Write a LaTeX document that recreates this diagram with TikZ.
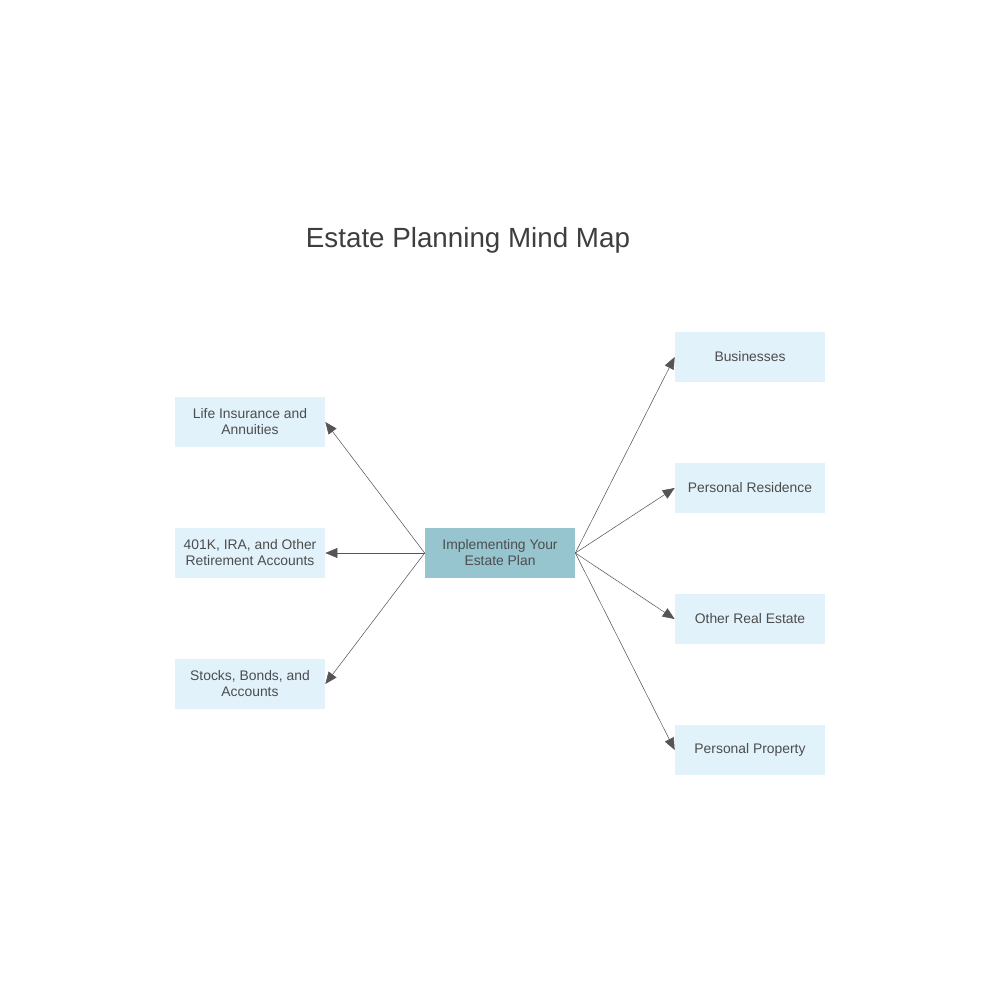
\documentclass[tikz,border=0pt]{standalone}
\usepackage{fontspec}
\setmainfont{Liberation Sans}
\usetikzlibrary{arrows.meta, positioning}

\definecolor{leafblue}{HTML}{E1F2FA}
\definecolor{hubblue}{HTML}{96C5D0}
\definecolor{txtgray}{HTML}{4D4D4D}
\definecolor{linegray}{HTML}{555555}

\begin{document}
\begin{tikzpicture}[x=0.02cm, y=-0.02cm, >={Triangle[length=6.8pt, width=5.6pt]}]

                % Area da figura
                \useasboundingbox (0,0) rectangle (1000,1000);

                \tikzset{
                    leaf/.style={fill=leafblue, minimum width=3cm, minimum height=1cm, inner sep=0pt,
                        align=center, text=txtgray, font=\fontsize{7.9}{9.1}\selectfont},
                    hub/.style={leaf, fill=hubblue},
                    link/.style={draw=linegray, line width=0.3pt, ->}
                }

                % Titulo
                \node[text=txtgray!80!black, font=\fontsize{15.8}{18}\selectfont] (title) at (468,240) {Estate Planning Mind Map};

                % No central
                \node[hub] (center) at (500,553) {Implementing Your\\Estate Plan};

                % Ramos da esquerda
                \node[leaf] (life) at (250,422) {Life Insurance and\\Annuities};
                \node[leaf] (retire) at (250,553) {401K, IRA, and Other\\Retirement Accounts};
                \node[leaf] (stocks) at (250,684) {Stocks, Bonds, and\\Accounts};

                % Ramos da direita
                \node[leaf] (business) at (750,357) {Businesses};
                \node[leaf] (residence) at (750,488) {Personal Residence};
                \node[leaf] (realestate) at (750,619) {Other Real Estate};
                \node[leaf] (property) at (750,750) {Personal Property};

                % Ligacoes
                \draw[link] (center.west) -- (life.east);
                \draw[link] (center.west) -- (retire.east);
                \draw[link] (center.west) -- (stocks.east);
                \draw[link] (center.east) -- (business.west);
                \draw[link] (center.east) -- (residence.west);
                \draw[link] (center.east) -- (realestate.west);
                \draw[link] (center.east) -- (property.west);

            \end{tikzpicture}
\end{document}
